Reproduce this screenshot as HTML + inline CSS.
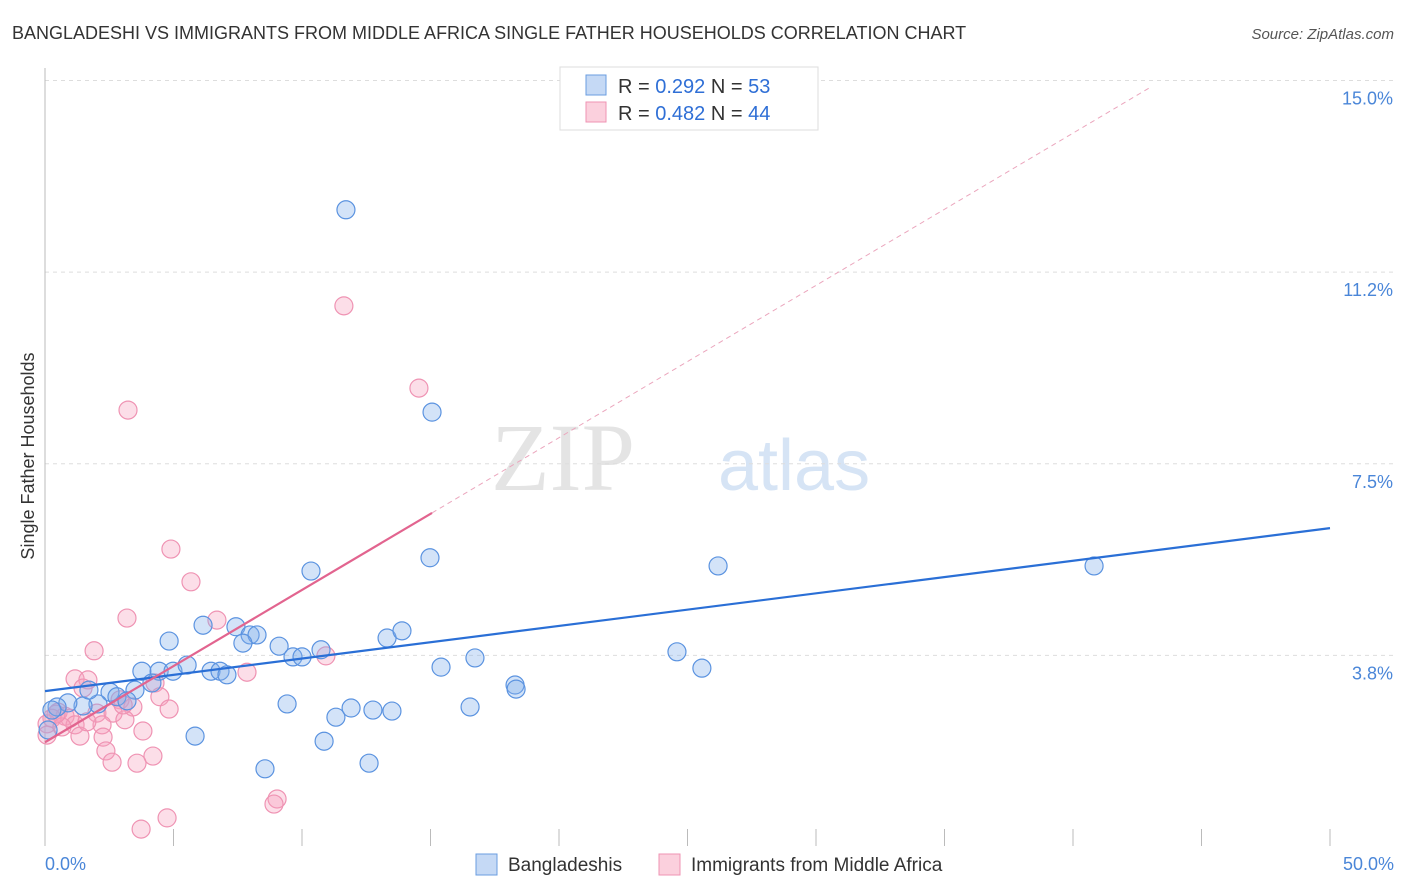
<!DOCTYPE html>
<html><head><meta charset="utf-8"><style>
body{margin:0;background:#fff;font-family:"Liberation Sans",sans-serif}
svg{display:block}
</style></head><body>
<svg id="c" width="1406" height="892">
<text x="12" y="39" font-size="18" fill="#333">BANGLADESHI VS IMMIGRANTS FROM MIDDLE AFRICA SINGLE FATHER HOUSEHOLDS CORRELATION CHART</text>
<text x="1394" y="39" font-size="15" fill="#555" font-style="italic" text-anchor="end">Source: ZipAtlas.com</text>
<text x="635" y="490" font-size="96" fill="#e4e4e4" font-family="Liberation Serif" text-anchor="end">ZIP</text>
<text x="718" y="490" font-size="72" fill="#d6e4f5">atlas</text>
<text transform="translate(34,456) rotate(-90)" font-size="18" fill="#333" text-anchor="middle">Single Father Households</text>
<g id="grid"></g><g id="marks"></g>
<g>
<rect x="560" y="67" width="258" height="63" fill="#fff" stroke="#ddd"/>
<rect x="586" y="75" width="20" height="20" fill="#c5d9f5" stroke="#6a9de0"/>
<rect x="586" y="102" width="20" height="20" fill="#fbd0dd" stroke="#ef93b3"/>
<text x="618" y="93" font-size="20" fill="#333">R = <tspan fill="#2f6fd6">0.292</tspan>   N = <tspan fill="#2f6fd6">53</tspan></text>
<text x="618" y="120" font-size="20" fill="#333">R = <tspan fill="#2f6fd6">0.482</tspan>   N = <tspan fill="#2f6fd6">44</tspan></text>
</g>
<g>
<rect x="476" y="854" width="21" height="21" fill="#c5d9f5" stroke="#6a9de0"/>
<text x="508" y="871" font-size="19" fill="#333">Bangladeshis</text>
<rect x="659" y="854" width="21" height="21" fill="#fbd0dd" stroke="#ef93b3"/>
<text x="691" y="871" font-size="19" fill="#333">Immigrants from Middle Africa</text>
</g>
</svg>
<script>
const yTicks=[3.75,7.5,11.25,15];
const yTickLabels=["3.8%","7.5%","11.2%","15.0%"];
const xTicks=[0,5,10,15,20,25,30,35,40,45,50];
const blueX=[11.71,15.06,14.98,10.35,26.19,40.82,4.83,6.15,7.43,7.98,8.25,7.70,9.11,9.65,10.00,10.74,13.31,13.89,15.41,16.73,24.59,25.56,3.77,4.44,4.98,5.53,6.46,6.81,7.08,4.16,3.50,2.53,2.80,3.19,2.06,1.48,0.89,0.47,9.42,11.32,11.91,12.76,13.50,16.54,18.29,18.33,5.84,10.86,8.56,12.61,1.71,0.27,0.12];
const blueY=[12.47,8.51,5.66,5.40,5.50,5.50,4.03,4.34,4.31,4.15,4.15,3.99,3.93,3.72,3.72,3.86,4.09,4.23,3.52,3.70,3.82,3.50,3.44,3.44,3.44,3.56,3.44,3.44,3.37,3.21,3.07,3.03,2.94,2.86,2.80,2.76,2.82,2.74,2.80,2.54,2.72,2.68,2.66,2.74,3.17,3.09,2.17,2.07,1.53,1.64,3.07,2.68,2.29];
const pinkX=[11.63,14.55,3.23,4.90,5.68,3.19,6.69,1.91,10.93,7.86,1.17,1.67,1.48,4.28,4.47,2.92,3.42,4.83,2.02,2.65,0.51,0.78,0.97,0.27,0.08,1.17,3.11,2.22,3.81,1.36,2.26,2.37,4.20,2.61,3.58,9.03,8.91,3.74,4.75,0.08,0.66,0.43,1.63,3.04];
const pinkY=[10.59,8.98,8.55,5.83,5.19,4.48,4.44,3.84,3.74,3.42,3.29,3.27,3.11,3.21,2.94,2.88,2.74,2.70,2.62,2.62,2.64,2.56,2.52,2.52,2.41,2.39,2.49,2.39,2.27,2.17,2.15,1.88,1.78,1.66,1.64,0.94,0.84,0.35,0.57,2.19,2.35,2.60,2.45,2.78];
const blueFit=[3.05,0.0638];
const pinkFit=[2.05,0.298];
const NS="http://www.w3.org/2000/svg";
const X=v=>45+v/50*1285, Y=v=>847-v*51.1;
function mk(t,a,p){const e=document.createElementNS(NS,t);for(const k in a)e.setAttribute(k,a[k]);p.appendChild(e);return e;}
const g=document.getElementById('grid'), m=document.getElementById('marks');
yTicks.forEach((t,i)=>{
 const l=mk('line',{x1:45,x2:1395,y1:Y(t),y2:Y(t),stroke:'#ddd','stroke-dasharray':'4,4'},g);
 
 
 const tx=mk('text',{x:1393,y:Y(t)+24,'font-size':18,fill:'#4a86d8','text-anchor':'end'},g);
 tx.textContent=yTickLabels[i];
 
 
});
const ax=mk('line',{x1:45,x2:45,y1:68,y2:846,stroke:'#bbb'},g);


xTicks.forEach(t=>{
 const l=mk('line',{x1:X(t),x2:X(t),y1:829,y2:846,stroke:'#bbb'},g);
 
 
});
[[0,'0.0%','start',45],[50,'50.0%','end',1394]].forEach(d=>{
 const tx=mk('text',{x:d[3],y:870,'font-size':18,fill:'#4a86d8','text-anchor':d[2]},g);
 tx.textContent=d[1];
 
 
});
function pts(xs,ys,fill,stroke,name){xs.forEach((x,i)=>{
 const c=mk('circle',{cx:X(x),cy:Y(ys[i]),r:9,fill:fill,stroke:stroke,'stroke-width':1.2},m);
 
 
});}
pts(pinkX,pinkY,'rgba(245,160,190,0.35)','#ef93b3','point-middle-africa');
pts(blueX,blueY,'rgba(130,175,235,0.35)','#5b93e0','point-bangladeshi');
const bl=mk('line',{x1:X(0),y1:Y(blueFit[0]),x2:X(50),y2:Y(blueFit[0]+blueFit[1]*50),stroke:'#2a6fd6','stroke-width':2.2},m);


const ps=mk('line',{x1:X(0),y1:Y(pinkFit[0]),x2:X(15.06),y2:Y(pinkFit[0]+pinkFit[1]*15.06),stroke:'#e2648f','stroke-width':2.2},m);


const pd=mk('line',{x1:X(15.06),y1:Y(pinkFit[0]+pinkFit[1]*15.06),x2:X(43),y2:Y(pinkFit[0]+pinkFit[1]*43),stroke:'#eba6bd','stroke-width':1,'stroke-dasharray':'5,4'},m);


</script>
</body></html>
